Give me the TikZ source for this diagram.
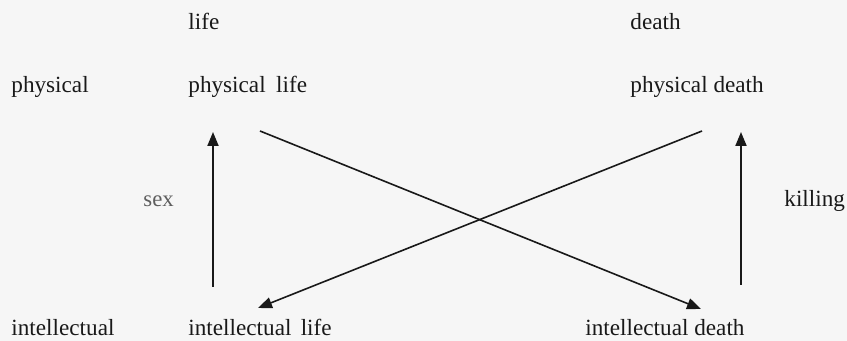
\documentclass[tikz,border=0pt]{standalone}
\usepackage{fontspec}
\setmainfont{Liberation Serif}
\newfontfamily\tnr{Liberation Serif}
\usetikzlibrary{arrows.meta}
\definecolor{bg}{RGB}{246,246,246}
\definecolor{ink}{RGB}{25,25,25}
\tikzset{
  lbl/.style={anchor=base west, inner sep=0pt, text=ink, font=\tnr\fontsize{11.6}{14}\selectfont},
  small/.style={lbl, text=ink!70, font=\tnr\fontsize{11.4}{13}\selectfont},
  uparrow/.style={draw=ink, line width=1pt, -{Triangle[length=7pt,width=5.5pt]}},
  diagarrow/.style={draw=ink, line width=0.8pt, -{Triangle[length=7pt,width=5.5pt]}}
}
\begin{document}
\begin{tikzpicture}[x=0.5pt,y=-0.5pt]
\fill[bg] (0,0) rectangle (847,341);
\useasboundingbox (0,0) rectangle (847,341);
\node[lbl] (life) at (188,30) {life};
\node[lbl] (death) at (630,30) {death};
\node[lbl] (phys) at (11,93) {physical};
\node[lbl] (plife) at (188,93) {physical\hspace{0.45em}life};
\node[lbl] (pdeath) at (630,93) {physical death};
\node[small] (sex) at (143,207) {sex};
\node[lbl] (killing) at (784,207) {killing};
\node[lbl] (intel) at (11,336) {intellectual};
\node[lbl] (ilife) at (188,336) {intellectual\hspace{0.4em}life};
\node[lbl] (ideath) at (585,336) {intellectual death};
\coordinate (sexs) at (213,287);
\coordinate (sext) at (213,132);
\coordinate (kils) at (741,285);
\coordinate (kilt) at (741,132);
\coordinate (d1s) at (260,131);
\coordinate (d1t) at (701,309);
\coordinate (d2s) at (702,131);
\coordinate (d2t) at (258,308);
\draw[uparrow] (sexs) -- (sext);
\draw[uparrow] (kils) -- (kilt);
\draw[diagarrow] (d1s) -- (d1t);
\draw[diagarrow] (d2s) -- (d2t);
\end{tikzpicture}
\end{document}
